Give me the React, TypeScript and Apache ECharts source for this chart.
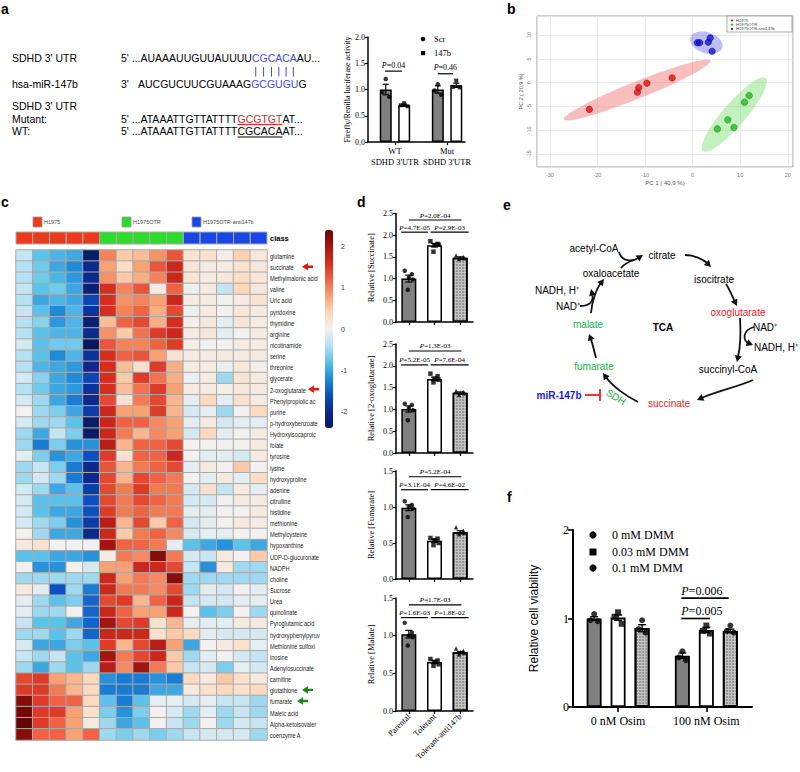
import React, { useEffect, useRef } from 'react';
import * as echarts from 'echarts';

const SANS = 'Arial, "Liberation Sans", Helvetica, sans-serif';
const SERIF = '"Times New Roman", "Liberation Serif", Times, serif';

/* ---------------- panel a : sequences + luciferase ---------------- */
const seqLabels = ["SDHD 3' UTR", 'hsa-miR-147b', "SDHD 3' UTR", 'Mutant:', 'WT:'];
const seqUtr = ["5' ...AUAAAUUGUUAUUUU", 'CGCACA', 'AU...'];
const seqMir = ["3'", 'AUCGUCUUCGUAAAG', 'GCGUGU', 'G'];
const seqMut = ["5' ...ATAAATTGTTATTTT", 'GCGTGT', 'AT...'];
const seqWt = ["5' ...ATAAATTGTTATTTT", 'CGCACA', 'AT...'];

const lucGroups = ["WT\nSDHD 3'UTR", "Mut\nSDHD 3'UTR"];
const lucSeriesNames = ['Scr', '147b'];
const lucScrMean = [1.0, 1.0];
const lucScrSem = [0.1, 0.07];
const luc147bMean = [0.7, 1.08];
const luc147bSem = [0.02, 0.04];
const lucScrPoints = [[1.2, 0.95, 0.86], [1.1, 0.98, 0.9]];
const luc147bPoints = [[0.74, 0.7, 0.68], [1.17, 1.05, 1.04]];
const lucPLabels = ['0.04', '0.46'];
const lucPLevels = [1.35, 1.3];

/* ---------------- panel b : PCA ---------------- */
const pcaGroups = ['H1975', 'H1975OTR', 'H1975OTR-anti147b'];
const pcaH1975 = [[-21.7, -5.6], [-11.6, -2.0], [-11.3, -1.0], [-9.6, -0.1], [-4.3, 1.0]];
const pcaOTR = [[5.2, -9.7], [7.4, -7.8], [8.7, -9.4], [10.9, -4.1], [11.9, -2.7]];
const pcaAnti = [[1.0, 8.4], [1.5, 8.4], [3.3, 8.5], [3.7, 9.4], [4.1, 6.6]];
// confidence ellipses: centre x, centre y, semi-major, semi-minor, angle (deg)
const pcaEllipses = [[-11.65, -1.55, 16.6, 1.8, 21.8], [8.75, -6.7, 10.1, 2.4, 49.2], [2.9, 8.4, 3.5, 2.2, -18]];
const pcaAxisNames = ['PC 1 ( 40.9 %)', 'PC 2 ( 20.9 %)'];

/* ---------------- panel c : heatmap ---------------- */
const heatClassNames = ['H1975', 'H1975OTR', 'H1975OTR-anti147b'];
const heatColumnClass = [0, 0, 0, 0, 0, 1, 1, 1, 1, 1, 2, 2, 2, 2, 2];
const heatRows = ['glutamine', 'succinate', 'Methylmalonic acid', 'valine', 'Uric acid', 'pyridoxine', 'thymidine',
  'arginine', 'nicotinamide', 'serine', 'threonine', 'glycerate', '2-oxoglutarate', 'Phenylpropiolic ac', 'purine',
  'p-hydroxybenzoate', 'Hydroxyisocaproic', 'folate', 'tyrosine', 'lysine', 'hydroxyproline', 'adenine', 'citrulline',
  'histidine', 'methionine', 'Methylcysteine', 'hypoxanthine', 'UDP-D-glucuronate', 'NADPH', 'choline', 'Sucrose',
  'Urea', 'quinolinate', 'Pyroglutamic acid', 'hydroxyphenylpyruv', 'Methionine sulfoxi', 'inosine',
  'Adenylosuccinate', 'carnitine', 'glutathione', 'fumarate', 'Maleic acid', 'Alpha-ketoisovaler', 'coenzyme A'];
const heatMatrix = [
  [-0.3, -0.8, -0.9, -1.0, -2.3, 1.0, 0.5, 0.6, 0.9, 1.3, 0.2, 0.25, 0.05, 0.45, 0.15],
  [-0.4, -0.7, -1.0, -1.2, -2.0, 0.8, 0.3, 0.8, 1.3, 1.7, 0.2, 0.1, 0.1, 0.25, 0.15],
  [-0.4, -0.7, -0.9, -1.1, -2.0, 0.9, 0.5, 0.7, 1.0, 1.7, 0.2, 0.1, 0.15, 0.3, 0.15],
  [-0.3, -0.8, -0.7, -1.0, -2.2, 1.6, 1.0, 1.3, 0.1, 1.2, -0.05, 0.1, -0.3, 0.4, 0.15],
  [-0.4, -1.0, -0.9, -1.0, -1.7, 1.6, 0.9, 1.0, 0.8, 1.7, 0.1, 0.1, 0, 0.1, 0.2],
  [-0.3, -0.8, -1.2, -0.9, -1.9, 1.6, 1.0, 1.2, 0.7, 1.4, -0.05, 0.1, 0, 0.15, 0.1],
  [-0.4, -0.6, -1.1, -0.9, -2.2, 0.6, 1.2, 1.4, 0.7, 1.6, 0.05, 0.15, -0.1, 0.2, 0.1],
  [-0.4, -0.8, -0.9, -0.9, -2.0, 0.9, 0.5, 1.1, 1.5, 1.7, 0.1, 0.15, -0.1, 0, 0.1],
  [-0.2, -0.8, -0.7, -0.7, -2.4, 1.3, 1.0, 1.0, 1.2, 1.5, 0.05, 0, 0, 0.1, 0.1],
  [-0.4, -0.8, -1.2, -0.9, -1.9, 1.6, 1.2, 1.3, 0.8, 0.2, 0.1, 0.1, 0.1, 0.1, 0.1],
  [-0.4, -0.9, -1.0, -1.1, -2.0, 1.6, 0.6, 0.3, 1.5, 0.7, 0.1, 0.1, -0.05, 0.15, 0.05],
  [-0.2, -0.6, -1.0, -1.2, -1.7, 1.6, 0.5, 1.5, 1.1, 0.7, -0.05, 0.1, -0.5, 0.2, 0.1],
  [-0.4, -0.7, -1.0, -1.1, -1.9, 1.6, 0.6, 1.1, 1.5, 0.8, 0.1, 0.1, 0.05, 0.15, 0.1],
  [-0.2, -0.5, -1.0, -1.3, -2.0, 1.4, 0.25, 1.05, 1.4, 0.65, -0.1, 0.35, -0.1, 0.25, 0.1],
  [0, -0.5, -0.65, -1.0, -1.8, 1.7, 0.8, 0.8, 1.5, 0.65, -0.2, -0.1, -0.5, 0, 0.35],
  [-0.2, -0.5, -0.5, -0.8, -2.3, 1.7, 1.2, 1.2, 0.95, 0.8, -0.1, 0.12, -0.2, -0.1, -0.1],
  [-0.5, -1.0, -0.3, -0.65, -2.3, 1.7, 1.05, 0.65, 0.95, 0.8, -0.2, 0.35, -0.1, 0, 0.1],
  [-0.5, -1.3, -0.65, -1.15, -1.15, 1.85, 0.65, 1.2, 1.2, 1.4, 0, 0, 0, 0, 0.1],
  [-0.1, -0.65, -1.15, -1.0, -1.6, 1.5, 0.25, 1.2, 1.2, 1.7, 0, -0.1, -0.1, -0.2, 0.1],
  [-0.5, -0.3, -0.65, -1.3, -2.0, 1.3, 0.65, 1.05, 1.2, 1.4, -0.1, 0.12, 0, 0.5, 0],
  [-0.5, -0.2, -0.5, -1.3, -2.0, 1.4, 0.65, 1.4, 1.2, 1.05, 0, -0.1, 0.12, -0.1, 0.3],
  [-0.2, -0.5, -1.0, -0.8, -1.8, 1.4, 1.05, 1.5, 1.05, 1.05, -0.2, 0.25, -0.3, 0.12, -0.1],
  [-0.2, -0.8, -0.8, -0.8, -1.6, 1.4, 1.05, 1.4, 1.2, 1.05, -0.2, -0.2, 0, 0.12, 0.1],
  [-0.2, -0.8, -1.0, -1.0, -1.6, 1.5, 1.05, 1.2, 1.05, 1.05, -0.1, -0.1, 0, 0, 0.1],
  [-0.2, -0.5, -0.65, -1.15, -1.8, 1.85, 0.65, 1.4, 0.5, 1.2, -0.2, -0.1, 0, 0.12, 0.1],
  [0, -0.5, -1.0, -1.0, -2.0, 1.7, 0.5, 1.05, 1.2, 0.95, -0.2, -0.1, -0.1, 0, 0],
  [0.12, 0.25, 0, 0, 0, 2.0, 1.2, 1.2, 1.05, -0.1, -0.8, -1.0, -1.15, -0.8, -1.0],
  [-0.8, -0.8, -1.0, -1.0, -1.15, 0.12, 1.05, 0.95, 2.2, 1.05, -0.2, -0.3, 0.12, 0, 0.5],
  [0, -1.15, -1.15, 0, -0.2, 0.8, 0.8, 1.7, 1.7, 1.4, -0.3, -1.15, 0.12, -0.5, -0.5],
  [-0.5, -0.5, -0.5, -0.5, -0.5, 1.7, 0.8, 1.05, 0.95, 2.2, -0.5, -0.5, -0.5, -0.5, -0.5],
  [0.12, -0.1, -1.6, -0.5, -1.3, 1.7, 1.05, 1.05, 0.95, 1.4, -0.5, -0.1, -0.2, 0, -0.1],
  [-0.1, -0.5, -0.8, -0.65, -1.45, 1.4, 1.5, 0.65, 1.2, 1.7, -0.3, -0.2, -0.2, -0.1, -0.1],
  [-0.1, -0.5, -0.5, 0, -1.45, 1.7, 1.2, 0.8, 0.8, 1.7, 0, -0.8, -0.65, 0, -0.5],
  [-0.3, -0.8, -0.8, -1.0, -1.45, 2.0, 1.4, 1.5, 0.25, 0.65, -0.1, -0.1, -0.1, 0.12, 0.12],
  [-0.5, -0.5, -0.8, -0.5, -1.45, 1.7, 1.7, 1.7, 0.25, 0.5, 0.35, -0.1, -0.2, -0.2, -0.2],
  [-0.2, -1.0, -1.0, -0.65, -0.8, 1.5, 0.65, 1.4, 1.85, 0.8, -1.0, 0, 0.12, 0.25, -0.1],
  [-0.3, -0.5, -0.3, -0.8, -1.0, 2.0, 1.05, 1.4, 1.7, 0.5, -0.5, -0.1, 0, -0.2, -0.3],
  [-0.5, -1.0, -0.5, -0.8, -0.5, 1.85, 0.95, 2.0, 1.05, 0.5, -0.3, -0.2, -0.65, -0.1, -0.2],
  [1.4, 1.5, 0.8, 0.65, 0.35, -1.15, -1.3, -1.3, -1.15, -1.3, 0.35, 0.12, 0.5, 0.25, 0.12],
  [1.5, 1.5, 1.05, 0.65, 0.35, -1.3, -1.3, -1.3, -1.0, -1.0, 0.12, 0.25, 0.35, 0.25, 0.35],
  [2.2, 1.5, 1.2, 1.2, 0.35, -0.8, -1.3, -0.8, -0.1, -0.1, -0.2, -0.1, -0.3, -0.3, -0.5],
  [2.3, 1.5, 1.5, 0.8, 0.25, -0.65, -1.15, -0.65, 0, -0.2, -0.5, -0.1, -0.5, -0.3, -0.5],
  [2.4, 1.5, 1.2, 0.8, 0.12, -0.5, -1.0, -0.8, 0, -0.3, -0.5, 0, -0.5, -0.2, -0.3],
  [2.2, 1.2, 1.2, 0.8, 1.2, -0.5, -0.65, -0.5, -0.65, -0.5, -0.3, -0.2, -0.2, -0.2, -0.5],
];
const heatScaleTicks = [2, 1, 0, -1, -2];
const redArrowRows = ['succinate', '2-oxoglutarate'];
const greenArrowRows = ['glutathione', 'fumarate'];

/* ---------------- panel d : metabolite bars ---------------- */
const dGroups = ['Parental', 'Tolerant', 'Tolerant-anti147b'];
const dMetabolites = ['Succinate', '2-oxoglutarate', 'Fumarate', 'Malate'];
const dAxisMax = [2.5, 2.5, 1.5, 1.5];
const succinateMean = [1.0, 1.77, 1.48];
const succinateSem = [0.08, 0.04, 0.02];
const succinatePts = [[1.18, 1.1, 1.02, 0.98, 0.74], [1.86, 1.8, 1.77, 1.78, 1.62], [1.53, 1.5, 1.48, 1.47, 1.45]];
const oxoMean = [1.01, 1.7, 1.38];
const oxoSem = [0.07, 0.04, 0.02];
const oxoPts = [[1.13, 1.1, 1.03, 0.98, 0.75], [1.82, 1.76, 1.7, 1.68, 1.62], [1.42, 1.4, 1.38, 1.37, 1.33]];
const fumarateMean = [0.99, 0.53, 0.65];
const fumarateSem = [0.04, 0.02, 0.02];
const fumaratePts = [[1.08, 1.03, 1.0, 0.98, 0.86], [0.57, 0.56, 0.54, 0.5, 0.47], [0.72, 0.67, 0.65, 0.64, 0.62]];
const malateMean = [1.02, 0.65, 0.78];
const malateSem = [0.05, 0.02, 0.01];
const malatePts = [[1.17, 1.04, 1.0, 0.98, 0.87], [0.69, 0.67, 0.65, 0.62, 0.6], [0.83, 0.8, 0.78, 0.77, 0.75]];
const dPLabels = [['2.0E-04', '4.7E-05', '2.9E-03'], ['1.3E-03', '5.2E-05', '7.6E-04'], ['5.2E-04', '3.1E-04', '4.6E-02'], ['1.7E-03', '1.6E-03', '1.8E-02']];
const dPLevels = [[2.35, 2.07], [2.34, 2.02], [1.42, 1.24], [1.41, 1.24]];

/* ---------------- panel f : viability ---------------- */
const fGroups = ['0 nM Osim', '100 nM Osim'];
const fLegend = ['0 mM DMM', '0.03 mM DMM', '0.1 mM DMM'];
const dmm0Mean = [1.0, 0.58];
const dmm003Mean = [1.01, 0.87];
const dmm01Mean = [0.89, 0.86];
const dmm0Sem = [0.02, 0.03];
const dmm003Sem = [0.03, 0.03];
const dmm01Sem = [0.04, 0.02];
const dmm0Pts = [[1.05, 0.98, 0.97], [0.63, 0.56, 0.53]];
const dmm003Pts = [[1.07, 1.02, 0.94], [0.92, 0.86, 0.83]];
const dmm01Pts = [[0.98, 0.88, 0.84], [0.92, 0.86, 0.84]];
const fPLabels = ['0.006', '0.005'];
const fPLevels = [1.23, 1.0];

/* ---------------- panel e : TCA cycle labels ---------------- */
const tcaBlack = ['acetyl-CoA', 'citrate', 'oxaloacetate', 'isocitrate', 'NADH, H⁺', 'NAD⁺', 'NAD⁺', 'NADH, H⁺', 'succinyl-CoA'];
const tcaRed = ['oxoglutarate', 'succinate'];
const tcaGreen = ['malate', 'fumarate', 'SDH'];

/* ---------------- helpers ---------------- */
const GRAY = '#808080';
const RED = '#ee2222';
const BLUE_SEQ = '#3f48e8';
const GREEN_T = '#1fae4a';

let measureCtx: any = null;
function textWidth(text: string, font: string) {
  if (!measureCtx) measureCtx = document.createElement('canvas').getContext('2d');
  measureCtx.font = font;
  return measureCtx.measureText(text).width;
}

function txt(x: number, y: number, text: string, o: any = {}) {
  const align = o.align || 'left';
  const va = o.va || 'middle';
  return {
    type: 'text', x, y, rotation: o.rotation || 0, z: 20, silent: true,
    style: {
      text, fill: o.color || '#000',
      font: `${o.italic ? 'italic ' : ''}${o.bold ? 'bold ' : ''}${o.size || 10}px ${o.family || SANS}`,
      textAlign: align, align, textVerticalAlign: va, verticalAlign: va,
    },
  };
}

function nearestIdx(arr: number[], v: number) {
  let bi = 0;
  arr.forEach((a, i) => { if (Math.abs(a - v) < Math.abs(arr[bi] - v)) bi = i; });
  return bi;
}

function axisCommon(lw: number, tickLen = 3) {
  return {
    axisLine: { show: true, onZero: false, lineStyle: { color: '#000', width: lw } },
    axisTick: { show: true, inside: false, length: tickLen, lineStyle: { color: '#000', width: lw * 0.8 } },
    splitLine: { show: false },
  };
}

function barSeries(gi: number, items: any[], width: number, lw = 1.5) {
  return {
    type: 'bar', xAxisIndex: gi, yAxisIndex: gi, barWidth: width, silent: true, z: 2,
    itemStyle: { borderColor: '#000', borderWidth: lw },
    data: items.map((it) => ({ value: [it.x, it.y], itemStyle: it.style })),
  };
}

function errSeries(gi: number, items: number[][], cap: number, lw: number) {
  return {
    type: 'custom', xAxisIndex: gi, yAxisIndex: gi, silent: true, z: 3,
    data: items, encode: { x: 0, y: 1 },
    renderItem: (params: any, api: any) => {
      const x = api.value(0), m = api.value(1), s = api.value(2);
      const t = api.coord([x, m + s]);
      const b = api.coord([x, m - s]);
      const st = { stroke: '#000', lineWidth: lw };
      return {
        type: 'group', children: [
          { type: 'line', shape: { x1: t[0], y1: t[1], x2: b[0], y2: b[1] }, style: st },
          { type: 'line', shape: { x1: t[0] - cap, y1: t[1], x2: t[0] + cap, y2: t[1] }, style: st },
          { type: 'line', shape: { x1: b[0] - cap, y1: b[1], x2: b[0] + cap, y2: b[1] }, style: st },
        ],
      };
    },
  };
}

function ptsSeries(gi: number, pts: number[][], symbol: string, size: number) {
  return {
    type: 'scatter', xAxisIndex: gi, yAxisIndex: gi, symbol, symbolSize: size, silent: true, z: 4,
    itemStyle: { color: '#000' }, data: pts,
  };
}

function sigSeries(gi: number, items: any[], fontSize: number, lw: number, gap: number) {
  return {
    type: 'custom', xAxisIndex: gi, yAxisIndex: gi, silent: true, z: 5,
    data: items.map((it, i) => [it.x1, it.x2, it.y, i]),
    encode: { x: [0, 1], y: 2 },
    renderItem: (params: any, api: any) => {
      const it = items[api.value(3)];
      const a = api.coord([api.value(0), api.value(2)]);
      const b = api.coord([api.value(1), api.value(2)]);
      const left = it.align === 'left';
      const tx = left ? a[0] : (a[0] + b[0]) / 2;
      const al = left ? 'left' : 'center';
      return {
        type: 'group', children: [
          { type: 'line', shape: { x1: a[0], y1: a[1], x2: b[0], y2: b[1] }, style: { stroke: '#000', lineWidth: lw } },
          {
            type: 'text', x: tx, y: a[1] - gap,
            style: {
              text: `{i|P}{n|=${it.label}}`,
              rich: {
                i: { fontStyle: 'italic', fontFamily: SERIF, fontSize, fill: '#000' },
                n: { fontFamily: SERIF, fontSize, fill: '#000' },
              },
              textAlign: al, align: al, textVerticalAlign: 'bottom', verticalAlign: 'bottom',
            },
          },
        ],
      };
    },
  };
}

function arrowEls(p0: number[], c1: number[], c2: number[], p3: number[], color: string, head = true, lw = 1.8) {
  const els: any[] = [];
  let end = p3;
  if (head) {
    const dx = p3[0] - c2[0], dy = p3[1] - c2[1];
    const len = Math.hypot(dx, dy) || 1;
    const ux = dx / len, uy = dy / len;
    const L = 6.5, W = 3.6;
    const bx = p3[0] - ux * L, by = p3[1] - uy * L;
    els.push({
      type: 'polygon', silent: true, z: 20,
      shape: { points: [[p3[0], p3[1]], [bx - uy * W, by + ux * W], [bx + uy * W, by - ux * W]] },
      style: { fill: color },
    });
    end = [bx + ux * 1.5, by + uy * 1.5];
  }
  els.push({
    type: 'bezierCurve', silent: true, z: 20,
    shape: { x1: p0[0], y1: p0[1], x2: end[0], y2: end[1], cpx1: c1[0], cpy1: c1[1], cpx2: c2[0], cpy2: c2[1] },
    style: { stroke: color, lineWidth: lw, fill: null },
  });
  return els;
}

function leftArrow(x: number, y: number, color: string) {
  return {
    type: 'polygon', silent: true, z: 20,
    shape: { points: [[x, y], [x + 6, y - 3.8], [x + 6, y - 1.2], [x + 11, y - 1.2], [x + 11, y + 1.2], [x + 6, y + 1.2], [x + 6, y + 3.8]] },
    style: { fill: color },
  };
}

/* ---------------- option ---------------- */
function buildOption() {
  const grids: any[] = [];
  const xAxes: any[] = [];
  const yAxes: any[] = [];
  const series: any[] = [];
  const g: any[] = [];

  const addGrid = (rect: any, xAxis: any, yAxis: any) => {
    const i = grids.length;
    grids.push({ show: false, outerBoundsMode: 'none', containLabel: false, ...rect });
    xAxes.push({ gridIndex: i, ...xAxis });
    yAxes.push({ gridIndex: i, ...yAxis });
    return i;
  };

  /* panel letters */
  [['a', 1, 9], ['b', 507, 9], ['c', 1, 202], ['d', 357, 202], ['e', 503, 205], ['f', 507, 497]].forEach(([l, x, y]: any) => {
    g.push(txt(x, y, l, { bold: true, size: 14 }));
  });

  /* ---------- panel a: sequences ---------- */
  const seqSize = 10.5;
  const seqFont = `${seqSize}px ${SANS}`;
  const rowY = [58, 83.5, 106, 118.5, 131];
  seqLabels.forEach((s, i) => g.push(txt(12, rowY[i], s, { size: seqSize })));
  const drawParts = (x0: number, y: number, parts: string[], colors: string[], underline: boolean[]) => {
    let cx = x0;
    const pos: number[] = [];
    parts.forEach((p, i) => {
      const w = textWidth(p, seqFont);
      pos.push(cx);
      g.push(txt(cx, y, p, { size: seqSize, color: colors[i] }));
      if (underline[i]) {
        g.push({ type: 'line', silent: true, z: 20, shape: { x1: cx, y1: y + 6, x2: cx + w, y2: y + 6 }, style: { stroke: colors[i], lineWidth: 1 } });
      }
      cx += w;
    });
    return pos;
  };
  const utrPos = drawParts(121, rowY[0], seqUtr, ['#000', BLUE_SEQ, '#000'], [false, false, false]);
  g.push(txt(121, rowY[1], seqMir[0], { size: seqSize }));
  drawParts(138, rowY[1], seqMir.slice(1), ['#000', BLUE_SEQ, '#000'], [false, false, false]);
  drawParts(121, rowY[3], seqMut, ['#000', RED, '#000'], [false, true, false]);
  drawParts(121, rowY[4], seqWt, ['#000', '#000', '#000'], [false, true, false]);
  let lx = utrPos[1];
  seqUtr[1].split('').forEach((ch) => {
    const w = textWidth(ch, seqFont);
    g.push({ type: 'line', silent: true, z: 20, shape: { x1: lx + w / 2, y1: 67, x2: lx + w / 2, y2: 76.5 }, style: { stroke: BLUE_SEQ, lineWidth: 1 } });
    lx += w;
  });

  /* ---------- panel a: luciferase bars ---------- */
  const A_GROUP_X = [2.78, 8.15];
  const A_OFF = 0.95;
  const A_JIT = [0, -0.35, 0.35];
  const gA = addGrid({ left: 368, top: 37, width: 97, height: 105 },
    {
      type: 'value', min: 0, max: 10, ...axisCommon(1.5),
      axisTick: { show: true, customValues: A_GROUP_X, length: 3, lineStyle: { color: '#000', width: 1.2 } },
      axisLabel: {
        show: true, customValues: A_GROUP_X, formatter: (v: number) => lucGroups[nearestIdx(A_GROUP_X, v)],
        fontFamily: SERIF, fontSize: 8.5, color: '#000', lineHeight: 10.5, margin: 4,
      },
    },
    {
      type: 'value', min: 0, max: 2, interval: 0.5, ...axisCommon(1.5),
      axisLabel: { formatter: (v: number) => v.toFixed(1), fontFamily: SERIF, fontSize: 8, color: '#000', margin: 3 },
      name: 'Firefly/Renilla luciferase activity', nameLocation: 'middle', nameGap: 17,
      nameTextStyle: { fontFamily: SERIF, fontSize: 8, color: '#000' },
    });
  const aBars: any[] = [];
  const aErr: number[][] = [];
  const aScrPts: number[][] = [];
  const a147Pts: number[][] = [];
  A_GROUP_X.forEach((gx, i) => {
    aBars.push({ x: gx - A_OFF, y: lucScrMean[i], style: { color: GRAY } });
    aBars.push({ x: gx + A_OFF, y: luc147bMean[i], style: { color: '#fff' } });
    aErr.push([gx - A_OFF, lucScrMean[i], lucScrSem[i]]);
    aErr.push([gx + A_OFF, luc147bMean[i], luc147bSem[i]]);
    lucScrPoints[i].forEach((v, k) => aScrPts.push([gx - A_OFF + A_JIT[k], v]));
    luc147bPoints[i].forEach((v, k) => a147Pts.push([gx + A_OFF + A_JIT[k], v]));
  });
  series.push(barSeries(gA, aBars, 12));
  series.push(errSeries(gA, aErr, 3, 1.2));
  series.push(ptsSeries(gA, aScrPts, 'circle', 4.5));
  series.push(ptsSeries(gA, a147Pts, 'rect', 4));
  series.push(sigSeries(gA, [
    { x1: 1.75, x2: 3.5, y: lucPLevels[0], label: lucPLabels[0] },
    { x1: 7.2, x2: 8.76, y: lucPLevels[1], label: lucPLabels[1] },
  ], 8, 1.2, 2));
  g.push({ type: 'circle', silent: true, z: 20, shape: { cx: 423, cy: 39, r: 2.3 }, style: { fill: '#000' } });
  g.push({ type: 'rect', silent: true, z: 20, shape: { x: 421, y: 51, width: 4.2, height: 4.2 }, style: { fill: '#000' } });
  g.push(txt(434, 39, lucSeriesNames[0], { family: SERIF, size: 8.5 }));
  g.push(txt(434, 53, lucSeriesNames[1], { family: SERIF, size: 8.5 }));

  /* ---------- panel b: PCA ---------- */
  const gB = addGrid({ left: 537, top: 16, width: 256, height: 151, show: true, borderColor: '#9a9a9a', borderWidth: 1, backgroundColor: '#fff' },
    {
      type: 'value', min: -32.7, max: 21.1,
      axisLine: { show: false }, axisTick: { show: false },
      axisLabel: { fontSize: 5.5, color: '#777', margin: 5, showMinLabel: false, showMaxLabel: false, fontFamily: SANS },
      splitLine: { show: true, lineStyle: { color: '#e4e4e4', width: 0.8 } },
      name: pcaAxisNames[0], nameLocation: 'middle', nameGap: 13, nameTextStyle: { fontSize: 6, color: '#555', fontFamily: SANS },
    },
    {
      type: 'value', min: -17.7, max: 14,
      axisLine: { show: false }, axisTick: { show: false },
      axisLabel: { rotate: 90, fontSize: 5.5, color: '#777', margin: 5, showMinLabel: false, showMaxLabel: false, fontFamily: SANS },
      splitLine: { show: true, lineStyle: { color: '#e4e4e4', width: 0.8 } },
      name: pcaAxisNames[1], nameLocation: 'middle', nameGap: 13, nameTextStyle: { fontSize: 5.5, color: '#555', fontFamily: SANS },
    });
  const pcaFill = ['rgba(240,110,110,0.45)', 'rgba(110,220,100,0.42)', 'rgba(110,110,235,0.45)'];
  const pcaPtColor = ['#dd1010', '#22bb22', '#1515cc'];
  const pcaPtBorder = ['#990000', '#117711', '#000088'];
  series.push({
    type: 'custom', xAxisIndex: gB, yAxisIndex: gB, silent: true, z: 1,
    data: pcaEllipses.map((e, i) => [...e, i]), encode: { x: 0, y: 1 },
    renderItem: (params: any, api: any) => {
      const cx = api.value(0), cy = api.value(1), rx = api.value(2), ry = api.value(3);
      const ang = (api.value(4) * Math.PI) / 180;
      const pts: number[][] = [];
      for (let k = 0; k < 72; k++) {
        const t = (k / 72) * Math.PI * 2;
        const ex = rx * Math.cos(t), ey = ry * Math.sin(t);
        pts.push(api.coord([cx + ex * Math.cos(ang) - ey * Math.sin(ang), cy + ex * Math.sin(ang) + ey * Math.cos(ang)]));
      }
      return { type: 'polygon', shape: { points: pts }, style: { fill: pcaFill[api.value(5)], stroke: null } };
    },
  });
  [pcaH1975, pcaOTR, pcaAnti].forEach((pts, i) => {
    series.push({
      type: 'scatter', xAxisIndex: gB, yAxisIndex: gB, silent: true, z: 3, symbolSize: 6.5,
      itemStyle: { color: pcaPtColor[i], borderColor: pcaPtBorder[i], borderWidth: 0.6 }, data: pts,
    });
  });
  g.push({ type: 'rect', silent: true, z: 20, shape: { x: 727, y: 16, width: 65, height: 16 }, style: { fill: '#fff', stroke: '#888', lineWidth: 0.7 } });
  pcaGroups.forEach((name, i) => {
    g.push({ type: 'circle', silent: true, z: 21, shape: { cx: 732, cy: 20.5 + i * 4.2, r: 1.1 }, style: { fill: pcaPtColor[i] } });
    g.push(txt(736, 20.5 + i * 4.2, name, { size: 4.2, color: '#444' }));
  });

  /* ---------- panel c: heatmap ---------- */
  const HEAT = { left: 16, top: 250, width: 251, height: 490 };
  const gC = addGrid(HEAT,
    { type: 'category', data: heatColumnClass.map((_, i) => String(i + 1)), show: false },
    {
      type: 'category', data: heatRows, inverse: true, position: 'right',
      axisLine: { show: false }, axisTick: { show: false }, splitLine: { show: false }, axisLabel: { show: false },
    });
  const heatData: number[][] = [];
  heatMatrix.forEach((row, r) => row.forEach((v, c) => heatData.push([c, r, v])));
  const heatSeriesIndex = series.length;
  series.push({
    type: 'heatmap', xAxisIndex: gC, yAxisIndex: gC, silent: true, data: heatData,
    itemStyle: { borderColor: '#aaaaaa', borderWidth: 1 }, emphasis: { disabled: true },
  });
  // condensed row labels (drawn at each category row of the heatmap's y axis)
  const lastCol = heatColumnClass.length - 1;
  series.push({
    type: 'custom', xAxisIndex: gC, yAxisIndex: gC, silent: true, z: 6,
    data: heatRows.map((_, r) => [lastCol, r]), encode: { x: 0, y: 1 },
    renderItem: (params: any, api: any) => {
      const p = api.coord([api.value(0), api.value(1)]);
      const sz = api.size([1, 1]);
      return {
        type: 'text', x: p[0] + sz[0] / 2 + 3, y: p[1] + 0.5, scaleX: 0.74, scaleY: 1,
        style: {
          text: heatRows[params.dataIndex], font: `7.6px ${SANS}`, fill: '#1a1a1a',
          textAlign: 'left', align: 'left', textVerticalAlign: 'middle', verticalAlign: 'middle',
        },
      };
    },
  });
  const classColors = ['#ec3a1c', '#2bdc2b', '#1a46e6'];
  const gCls = addGrid({ left: 16, top: 232, width: 251, height: 12 },
    { type: 'category', data: heatColumnClass.map((_, i) => String(i + 1)), show: false },
    {
      type: 'category', data: ['class'], position: 'right',
      axisLine: { show: false }, axisTick: { show: false },
      axisLabel: { fontSize: 7.5, fontWeight: 'bold', color: '#000', margin: 3, fontFamily: SANS },
    });
  series.push({
    type: 'custom', xAxisIndex: gCls, yAxisIndex: gCls, silent: true,
    data: heatColumnClass.map((c, i) => [i, 0, c]), encode: { x: 0, y: 1 },
    renderItem: (params: any, api: any) => {
      const p = api.coord([api.value(0), 0]);
      const sz = api.size([1, 1]);
      return {
        type: 'rect', shape: { x: p[0] - sz[0] / 2, y: p[1] - sz[1] / 2, width: sz[0], height: sz[1] },
        style: { fill: classColors[api.value(2)], stroke: '#aaaaaa', lineWidth: 1 },
      };
    },
  });
  const legX = [33, 122, 192];
  heatClassNames.forEach((n, i) => {
    g.push({ type: 'rect', silent: true, z: 20, shape: { x: legX[i], y: 217, width: 9, height: 10 }, style: { fill: classColors[i], stroke: '#999', lineWidth: 0.8 } });
    g.push(txt(legX[i] + 11, 222, n, { size: 5.5, color: '#444' }));
  });
  const rowH = HEAT.height / heatRows.length;
  const rowY2 = (name: string) => HEAT.top + (heatRows.indexOf(name) + 0.5) * rowH;
  g.push(leftArrow(302, rowY2(redArrowRows[0]), '#ee1111'));
  g.push(leftArrow(308, rowY2(redArrowRows[1]), '#ee1111'));
  g.push(leftArrow(302, rowY2(greenArrowRows[0]), '#1a8a1a'));
  g.push(leftArrow(297, rowY2(greenArrowRows[1]), '#1a8a1a'));
  const VM = { left: 325, top: 230, w: 8, h: 198, min: -2.4, max: 2.4 };
  heatScaleTicks.forEach((t) => {
    g.push(txt(341, VM.top + ((VM.max - t) / (VM.max - VM.min)) * VM.h, String(t), { size: 7, color: '#333' }));
  });

  /* ---------- panel d ---------- */
  const dMeans = [succinateMean, oxoMean, fumarateMean, malateMean];
  const dSems = [succinateSem, oxoSem, fumarateSem, malateSem];
  const dPts = [succinatePts, oxoPts, fumaratePts, malatePts];
  const dLayout = [{ top: 213.5, height: 108.5 }, { top: 344, height: 109 }, { top: 471, height: 108 }, { top: 598, height: 113 }];
  const D_X = [0, 1, 2];
  const D_JIT = [-0.16, 0.12, 0, 0.16, -0.04];
  const dSymbols = ['circle', 'rect', 'triangle'];
  const dStyles = [
    { color: GRAY },
    { color: '#ffffff' },
    { color: '#c4c4c4', decal: { symbol: 'circle', symbolSize: 0.7, color: 'rgba(70,70,70,0.9)', dashArrayX: [2, 1], dashArrayY: [2, 1] } },
  ];
  dMetabolites.forEach((m, k) => {
    const last = k === dMetabolites.length - 1;
    const gi = addGrid({ left: 396, width: 77, ...dLayout[k] },
      {
        type: 'value', min: -0.5, max: 2.5, ...axisCommon(1.5),
        axisTick: { show: true, customValues: D_X, length: 3, lineStyle: { color: '#000', width: 1.2 } },
        axisLabel: {
          show: last, customValues: D_X, formatter: (v: number) => dGroups[nearestIdx(D_X, v)],
          rotate: 45, fontFamily: SERIF, fontSize: 8.5, color: '#000', margin: 4,
        },
      },
      {
        type: 'value', min: 0, max: dAxisMax[k], interval: 0.5, ...axisCommon(1.5),
        axisLabel: { formatter: (v: number) => v.toFixed(1), fontFamily: SERIF, fontSize: 8, color: '#000', margin: 3 },
        name: `Relative [${m}]`, nameLocation: 'middle', nameGap: 21,
        nameTextStyle: { fontFamily: SERIF, fontSize: 8.5, color: '#000' },
      });
    series.push(barSeries(gi, D_X.map((x, j) => ({ x, y: dMeans[k][j], style: dStyles[j] })), 15));
    series.push(errSeries(gi, D_X.map((x, j) => [x, dMeans[k][j], dSems[k][j]]), 3.5, 1.2));
    D_X.forEach((x, j) => {
      series.push(ptsSeries(gi, dPts[k][j].map((v, p) => [x + D_JIT[p], v]), dSymbols[j], 4.5));
    });
    series.push(sigSeries(gi, [
      { x1: 0.0, x2: 2.05, y: dPLevels[k][0], label: dPLabels[k][0] },
      { x1: -0.3, x2: 0.75, y: dPLevels[k][1], label: dPLabels[k][1] },
      { x1: 0.85, x2: 2.33, y: dPLevels[k][1], label: dPLabels[k][2] },
    ], 7, 1.2, 1));
  });

  /* ---------- panel e: TCA diagram ---------- */
  const blackPos = [[594, 248], [662, 255], [611, 273], [714, 279], [557, 290], [568, 306], [765, 327], [776, 347], [728, 369]];
  tcaBlack.forEach((t, i) => g.push(txt(blackPos[i][0], blackPos[i][1], t, { align: 'center', size: 10 })));
  const redPos = [[738, 312], [669, 403]];
  tcaRed.forEach((t, i) => g.push(txt(redPos[i][0], redPos[i][1], t, { align: 'center', size: 10, color: RED })));
  const greenPos = [[588, 324], [594, 366], [616, 397]];
  tcaGreen.forEach((t, i) => g.push(txt(greenPos[i][0], greenPos[i][1], t, { align: 'center', size: 10, color: GREEN_T, rotation: i === 2 ? -0.55 : 0 })));
  g.push(txt(663, 327, 'TCA', { align: 'center', size: 10, bold: true }));
  g.push(txt(559, 395, 'miR-147b', { align: 'center', size: 10, bold: true, color: '#1a1adf' }));
  g.push({ type: 'line', silent: true, z: 20, shape: { x1: 585, y1: 395, x2: 600, y2: 395 }, style: { stroke: RED, lineWidth: 1.8 } });
  g.push({ type: 'line', silent: true, z: 20, shape: { x1: 600, y1: 389, x2: 600, y2: 401 }, style: { stroke: RED, lineWidth: 1.8 } });
  const K = '#111';
  g.push(...arrowEls([619, 252], [622, 262], [632, 262], [643, 255], K));
  g.push(...arrowEls([621, 268], [624, 264], [628, 262], [634, 260], K, false));
  g.push(...arrowEls([685, 255], [694, 255], [703, 259], [711, 267], K));
  g.push(...arrowEls([726, 284], [730, 290], [733, 298], [737, 306], K));
  g.push(...arrowEls([740, 318], [741, 333], [740, 348], [737, 362], K));
  g.push(...arrowEls([754, 327], [742, 330], [743, 341], [753, 345], K));
  g.push(...arrowEls([753, 380], [740, 386], [715, 392], [697, 400], K));
  g.push(...arrowEls([638, 402], [626, 396], [612, 386], [603, 373], K));
  g.push(...arrowEls([596, 358], [594, 350], [592, 342], [589, 334], K));
  g.push(...arrowEls([591, 313], [592, 300], [597, 288], [604, 279], K));
  g.push(...arrowEls([580, 306], [594, 306], [593, 297], [591, 289], K));

  /* ---------- panel f ---------- */
  const F_GROUP_X = [2.52, 7.45];
  const F_OFF = [-1.34, 0, 1.34];
  const F_JIT = [0, -0.2, 0.2];
  const gF = addGrid({ left: 573, top: 530, width: 179, height: 177 },
    {
      type: 'value', min: 0, max: 10, ...axisCommon(2, 5),
      axisTick: { show: true, customValues: F_GROUP_X, length: 5, lineStyle: { color: '#000', width: 1.6 } },
      axisLabel: {
        show: true, customValues: F_GROUP_X, formatter: (v: number) => fGroups[nearestIdx(F_GROUP_X, v)],
        fontFamily: SERIF, fontSize: 12, color: '#000', margin: 8,
      },
    },
    {
      type: 'value', min: 0, max: 2, interval: 1, ...axisCommon(2, 5),
      axisLabel: { fontFamily: SERIF, fontSize: 12, color: '#000', margin: 4 },
      name: 'Relative cell viability', nameLocation: 'middle', nameGap: 33,
      nameTextStyle: { fontFamily: SANS, fontSize: 12, color: '#000' },
    });
  const fMeans = [dmm0Mean, dmm003Mean, dmm01Mean];
  const fSems = [dmm0Sem, dmm003Sem, dmm01Sem];
  const fPts = [dmm0Pts, dmm003Pts, dmm01Pts];
  const fSymbols = ['circle', 'rect', 'circle'];
  const fBars: any[] = [];
  const fErr: number[][] = [];
  F_GROUP_X.forEach((gx, i) => {
    F_OFF.forEach((o, j) => {
      fBars.push({ x: gx + o, y: fMeans[j][i], style: dStyles[j] });
      fErr.push([gx + o, fMeans[j][i], fSems[j][i]]);
    });
  });
  series.push(barSeries(gF, fBars, 15, 1.8));
  series.push(errSeries(gF, fErr, 4, 1.4));
  F_OFF.forEach((o, j) => {
    const pts: number[][] = [];
    F_GROUP_X.forEach((gx, i) => fPts[j][i].forEach((v, p) => pts.push([gx + o + F_JIT[p], v])));
    series.push(ptsSeries(gF, pts, fSymbols[j], 6));
  });
  series.push(sigSeries(gF, [
    { x1: 6.05, x2: 8.7, y: fPLevels[0], label: fPLabels[0], align: 'left' },
    { x1: 6.05, x2: 7.65, y: fPLevels[1], label: fPLabels[1], align: 'left' },
  ], 12, 1.6, 1.5));
  const fLegY = [535, 552, 568];
  fLegend.forEach((t, i) => {
    if (fSymbols[i] === 'rect') {
      g.push({ type: 'rect', silent: true, z: 20, shape: { x: 589.5, y: fLegY[i] - 3.5, width: 7, height: 7 }, style: { fill: '#000' } });
    } else {
      g.push({ type: 'circle', silent: true, z: 20, shape: { cx: 593, cy: fLegY[i], r: 3.6 }, style: { fill: '#000' } });
    }
    g.push(txt(612, fLegY[i], t, { family: SERIF, size: 12 }));
  });

  return {
    animation: false,
    backgroundColor: '#ffffff',
    textStyle: { fontFamily: SANS },
    grid: grids,
    xAxis: xAxes,
    yAxis: yAxes,
    visualMap: [{
      type: 'continuous', seriesIndex: heatSeriesIndex, min: VM.min, max: VM.max, calculable: false, show: true,
      left: VM.left, top: VM.top, itemWidth: VM.w, itemHeight: VM.h, padding: 0, text: null, showLabel: false,
      inRange: {
        color: ['#08185a', '#0b2a8c', '#0c4fc2', '#1f8ad8', '#5cc2e9', '#b5e1f2', '#f3f1f0',
          '#fdd7b9', '#f8a274', '#ef6243', '#d72d1e', '#a5150f', '#650404'],
      },
    }],
    series,
    graphic: { elements: g },
  };
}

export default function App() {
  const ref = useRef<HTMLDivElement>(null);
  useEffect(() => {
    if (!ref.current) return;
    const chart = echarts.init(ref.current, null, { renderer: 'svg' });
    chart.setOption(buildOption() as any);
    return () => chart.dispose();
  }, []);
  return (
    <div
      ref={ref}
      style={{ position: 'absolute', left: 0, top: 0, width: 800, height: 772, background: '#fff' }}
    />
  );
}
